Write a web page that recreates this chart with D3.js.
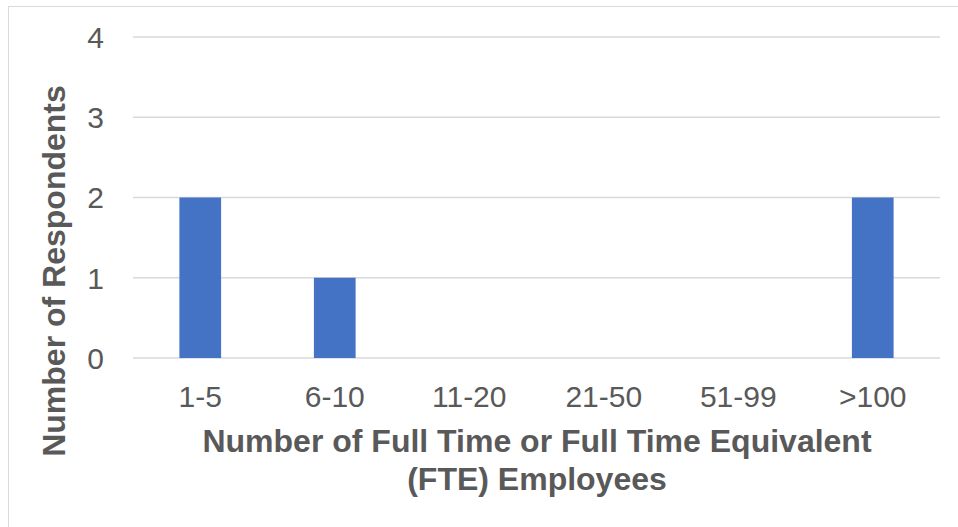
<!DOCTYPE html>
<html><head><meta charset="utf-8">
<script src="https://cdn.jsdelivr.net/npm/d3@7"></script>
<style>body{margin:0;background:#fff}svg{display:block}text{font-family:"Liberation Sans",Arial,sans-serif}</style>
</head><body>
<svg id="c" width="958" height="527"></svg>
<script>
const categories = ["1-5","6-10","11-20","21-50","51-99",">100"];
const values = [2,1,0,0,0,2];
const yTicks = [0,1,2,3,4];
const xTitle = ["Number of Full Time or Full Time Equivalent","(FTE) Employees"];
const yTitle = "Number of Respondents";

(function(){
const svg = d3.select("#c");
svg.append("rect").attr("x",8.5).attr("y",6.5).attr("width",958).attr("height",540)
  .attr("fill","#fff").attr("stroke","#d9d9d9");
const pL=133, pR=940, pT=37, pB=358;
const x = d3.scaleBand().domain(categories).range([pL,pR]).paddingInner(0.69).paddingOuter(0.345);
const y = d3.scaleLinear().domain([0,4]).range([pB,pT]);

svg.append("g").selectAll("line").data(yTicks).join("line")
  .attr("x1",pL).attr("x2",pR).attr("y1",d=>y(d)).attr("y2",d=>y(d))
  .attr("stroke","#d9d9d9").attr("stroke-width",1.3);

svg.append("g").selectAll("rect").data(values).join("rect")
  .attr("x",(d,i)=>x(categories[i])).attr("width",x.bandwidth())
  .attr("y",d=>y(d)).attr("height",d=>y(0)-y(d)).attr("fill","#4472C4");

svg.append("g").selectAll("text").data(yTicks).join("text")
  .attr("x",104).attr("y",d=>y(d)).attr("dy","0.36em").attr("text-anchor","end")
  .attr("font-size",30).attr("fill","#595959").text(d=>d);

svg.append("g").selectAll("text").data(categories).join("text")
  .attr("x",d=>x(d)+x.bandwidth()/2).attr("y",407).attr("text-anchor","middle")
  .attr("font-size",30).attr("fill","#595959").text(d=>d);

svg.append("g").selectAll("text").data(xTitle).join("text")
  .attr("x",537).attr("y",(d,i)=>452+i*38).attr("text-anchor","middle")
  .attr("font-size",32).attr("font-weight","bold").attr("fill","#595959").text(d=>d);

svg.append("text").attr("transform","translate(65,271) rotate(-90)")
  .attr("text-anchor","middle").attr("font-size",32).attr("font-weight","bold")
  .attr("fill","#595959").text(yTitle);
})();
</script>
</body></html>
